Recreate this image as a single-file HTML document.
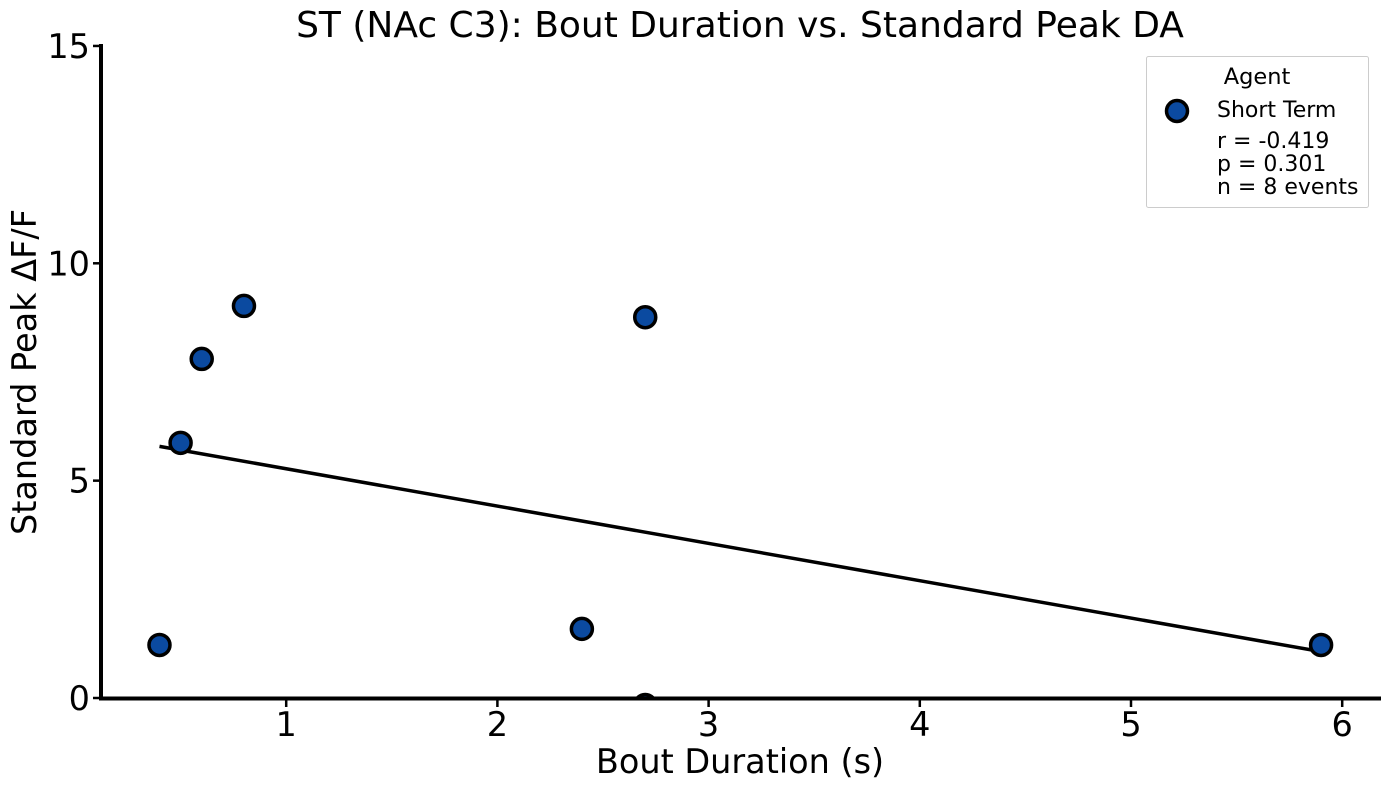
<!DOCTYPE html>
<html><head><meta charset="utf-8"><style>
body{margin:0;background:#fff;font-family:"Liberation Sans","DejaVu Sans",sans-serif}
</style></head><body>
<svg width="1389" height="790" xmlns="http://www.w3.org/2000/svg" font-family="DejaVu Sans, Liberation Sans, sans-serif">
<defs><clipPath id="plot"><rect x="101" y="44" width="1280" height="654"/></clipPath></defs>
<text x="740" y="37" text-anchor="middle" font-size="36">ST (NAc C3): Bout Duration vs. Standard Peak DA</text>
<g id="xticks"></g>
<g id="yticks"></g>
<text x="740" y="773" text-anchor="middle" font-size="33.5">Bout Duration (s)</text>
<text transform="translate(36,372) rotate(-90)" text-anchor="middle" font-size="33.5">Standard Peak ΔF/F</text>
<g id="marks" clip-path="url(#plot)"></g>
<line x1="101" y1="44" x2="101" y2="700" stroke="#000" stroke-width="4"/>
<line x1="99" y1="698.5" x2="1381" y2="698.5" stroke="#000" stroke-width="4"/>
<g>
<rect x="1146.5" y="56.5" width="222" height="151" fill="#fff" stroke="#ccc" stroke-width="1" rx="2"/>
<text x="1257" y="84" text-anchor="middle" font-size="22.5">Agent</text>
<circle cx="1177" cy="111" r="10.5" fill="#0b4aa0" stroke="#000" stroke-width="3.5"/>
<text x="1217" y="117" font-size="22">Short Term</text>
<text x="1217" y="148" font-size="22">r = -0.419</text>
<text x="1217" y="171" font-size="22">p = 0.301</text>
<text x="1217" y="194" font-size="22">n = 8 events</text>
</g>
</svg>
<script>
const xVals=[0.4,0.5,0.6,0.8,2.7,2.4,2.7,5.9];
const yVals=[1.22,5.87,7.8,9.02,8.76,1.59,-0.16,1.22];
const xTicks=[1,2,3,4,5,6];
const yTicks=[0,5,10,15];
const NS="http://www.w3.org/2000/svg";
const X=v=>75+211.2*v, Y=v=>698-43.47*v;
function mk(t,a,p){const e=document.createElementNS(NS,t);for(const k in a)e.setAttribute(k,a[k]);p.appendChild(e);return e;}
const xt=document.getElementById('xticks'),yt=document.getElementById('yticks'),m=document.getElementById('marks');
xTicks.forEach(v=>{const l=mk('line',{x1:X(v),x2:X(v),y1:699,y2:707,stroke:'#000','stroke-width':2.5},xt);


const t=mk('text',{x:X(v),y:736,'text-anchor':'middle','font-size':33.5},xt);t.textContent=v;

});
yTicks.forEach(v=>{const l=mk('line',{x1:93,x2:101,y1:Y(v),y2:Y(v),stroke:'#000','stroke-width':2.5},yt);


const t=mk('text',{x:90,y:Y(v)+12,'text-anchor':'end','font-size':33.5},yt);t.textContent=v;

});
const n=xVals.length,mx=xVals.reduce((a,b)=>a+b)/n,my=yVals.reduce((a,b)=>a+b)/n;
let sxy=0,sxx=0;xVals.forEach((x,i)=>{sxy+=(x-mx)*(yVals[i]-my);sxx+=(x-mx)**2;});
const b=sxy/sxx,a=my-b*mx,x0=Math.min(...xVals),x1=Math.max(...xVals);
const fit=mk('line',{x1:X(x0),y1:Y(a+b*x0),x2:X(x1),y2:Y(a+b*x1),stroke:'#000','stroke-width':3.5},m);


xVals.forEach((x,i)=>{const c=mk('circle',{cx:X(x),cy:Y(yVals[i]),r:10.5,fill:'#0b4aa0',stroke:'#000','stroke-width':3.5},m);

});
</script>
</body></html>
